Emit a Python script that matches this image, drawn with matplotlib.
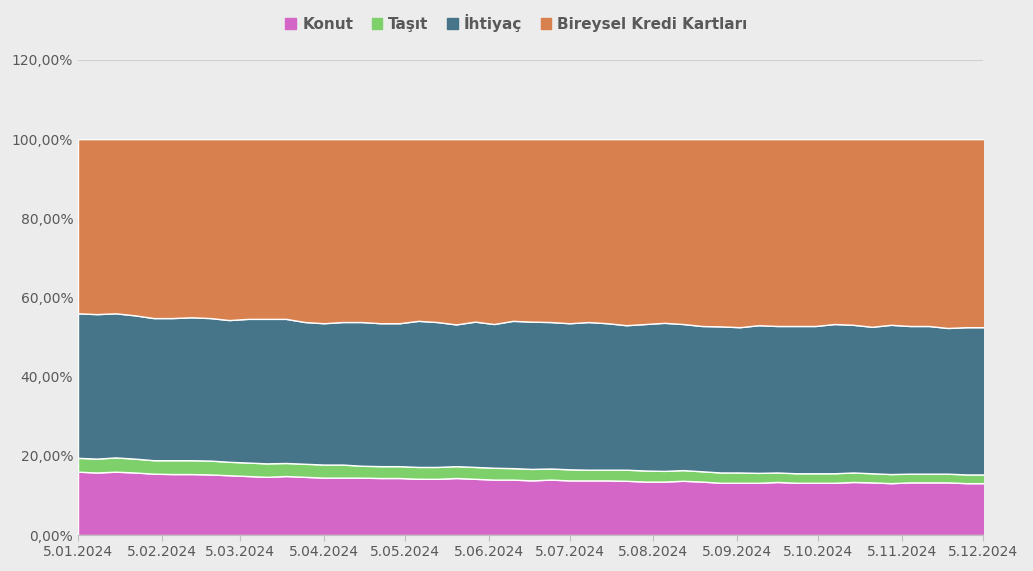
import matplotlib
matplotlib.use("Agg")
import matplotlib.pyplot as plt
from matplotlib.patches import Patch
import numpy as np
import pandas as pd

dates = pd.date_range("2024-01-05", periods=49, freq="7D")
konut = [16,15.8,16,15.8,15.5,15.4,15.4,15.3,15.1,14.9,14.7,14.9,14.7,14.5,14.5,14.5,14.4,14.4,14.2,14.2,
         14.4,14.2,14.0,14.0,13.8,14.0,13.8,13.8,13.8,13.7,13.5,13.5,13.7,13.5,13.2,13.2,13.2,13.4,13.2,13.2,
         13.2,13.4,13.3,13.1,13.3,13.3,13.3,13.1,13.1]
tasit = [3.5,3.5,3.6,3.5,3.4,3.5,3.5,3.5,3.4,3.4,3.4,3.3,3.3,3.3,3.3,3.0,3.0,3.0,3.0,3.0,
         3.0,3.0,3.0,2.9,2.9,2.8,2.8,2.7,2.7,2.8,2.8,2.7,2.7,2.6,2.6,2.6,2.5,2.4,2.4,2.4,
         2.4,2.4,2.3,2.3,2.2,2.2,2.2,2.2,2.2]
# cumulative top of İhtiyaç band (Konut + Taşıt + İhtiyaç), remainder is Bireysel Kredi Kartları
ihtiyac_top = [56,55.8,56,55.5,54.8,54.8,55,54.8,54.3,54.6,54.6,54.6,53.8,53.5,53.8,53.8,53.5,53.5,54.1,53.8,
               53.2,53.9,53.3,54.1,53.9,53.8,53.5,53.8,53.5,53.0,53.3,53.6,53.3,52.8,52.7,52.5,53.0,52.8,52.8,52.8,
               53.3,53.1,52.6,53.1,52.8,52.8,52.3,52.5,52.5]
total = [100]*49
names = ["Konut", "Taşıt", "İhtiyaç", "Bireysel Kredi Kartları"]
colors = ["#D366C6", "#7ED16A", "#467589", "#D9804F"]

k = np.array(konut); t = k + np.array(tasit); i = np.array(ihtiyac_top); tot = np.array(total)
layers = [(np.zeros_like(k), k), (k, t), (t, i), (i, tot)]

fig = plt.figure(figsize=(10.33, 5.71), dpi=100)
fig.patch.set_facecolor("#ECECEC")
ax = fig.add_axes([0.0755, 0.063, 0.876, 0.832])
ax.set_facecolor("none")
for (lo, hi), c in zip(layers, colors):
    ax.fill_between(dates, lo, hi, color=c, edgecolor="white", linewidth=1.0, zorder=2)
ax.set_ylim(0, 120)
ax.set_yticks(np.arange(0, 121, 20))
ax.set_yticklabels([f"{v:.2f}%".replace(".", ",") for v in range(0, 121, 20)])
ax.grid(axis="y", color="#D0D0D0", linewidth=0.8, zorder=0)
ax.set_axisbelow(True)
ticks = pd.date_range("2024-01-01", "2024-12-01", freq="MS") + pd.Timedelta(days=4)
ax.set_xticks(ticks)
ax.set_xticklabels([f"{d.day}.{d.month:02d}.{d.year}" for d in ticks])
ax.set_xlim(dates[0], pd.Timestamp("2024-12-05"))
for s in ["top", "right", "left"]:
    ax.spines[s].set_visible(False)
ax.spines["bottom"].set_color("#BFBFBF")
ax.tick_params(axis="both", colors="#595959", labelsize=10, length=0)
ax.tick_params(axis="x", length=4, color="#BFBFBF")
handles = [Patch(color=c, label=n) for n, c in zip(names, colors)]
leg = fig.legend(handles=handles, loc="upper center", bbox_to_anchor=(0.5, 1.0), ncol=4,
                 frameon=False, handlelength=0.7, handleheight=0.7, columnspacing=1.2, handletextpad=0.4,
                 prop={"weight": "bold", "size": 11})
for tx in leg.get_texts():
    tx.set_color("#595959")
fig.savefig("out.png", dpi=100, facecolor=fig.get_facecolor())
